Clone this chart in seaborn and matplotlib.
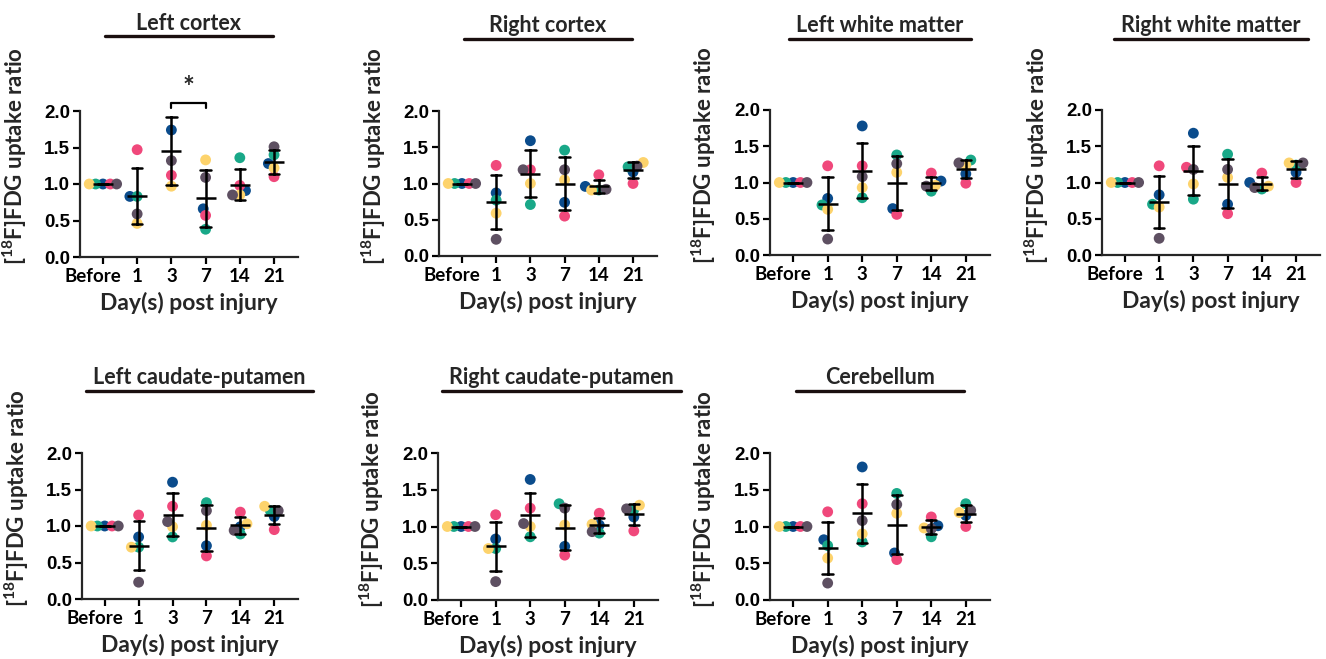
import numpy as np
import pandas as pd
import matplotlib
matplotlib.use("Agg")
import matplotlib.pyplot as plt
import matplotlib.transforms as mtransforms
import seaborn as sns
from matplotlib.lines import Line2D

# figure size in pixels
W, H = 1326, 659

# categories
DAYS = ["Before", "1", "3", "7", "14", "21"]
ANIMALS = ["navy", "teal", "pink", "yellow", "gray"]
PALETTE = {"navy": "#0b4c8c", "teal": "#19a888", "pink": "#f0487b",
           "yellow": "#fdd36c", "gray": "#5e5062"}

# uptake ratios per animal, order = DAYS
left_cortex = {
    "navy":   [1.0, 0.83, 1.74, 0.66, 0.91, 1.28],
    "teal":   [1.0, 0.83, 2.10, 0.38, 1.36, 1.40],
    "pink":   [1.0, 1.47, 1.12, 0.57, 0.98, 1.10],
    "yellow": [1.0, 0.46, 0.97, 1.33, 0.85, 1.22],
    "gray":   [1.0, 0.59, 1.32, 1.09, 0.85, 1.51],
}
right_cortex = {
    "navy":   [1.0, 0.87, 1.59, 0.74, 0.96, 1.16],
    "teal":   [1.0, 0.77, 0.71, 1.46, 0.91, 1.23],
    "pink":   [1.0, 1.25, 1.19, 0.55, 1.12, 1.00],
    "yellow": [1.0, 0.59, 1.00, 1.05, 0.91, 1.29],
    "gray":   [1.0, 0.23, 1.19, 1.19, 0.92, 1.24],
}
left_wm = {
    "navy":   [1.0, 0.78, 1.78, 0.64, 1.02, 1.12],
    "teal":   [1.0, 0.69, 0.79, 1.38, 0.88, 1.31],
    "pink":   [1.0, 1.23, 1.23, 0.56, 1.13, 0.99],
    "yellow": [1.0, 0.63, 0.93, 1.14, 0.96, 1.24],
    "gray":   [1.0, 0.22, 1.08, 1.26, 0.95, 1.27],
}
right_wm = {
    "navy":   [1.0, 0.83, 1.68, 0.70, 1.00, 1.14],
    "teal":   [1.0, 0.70, 0.77, 1.39, 0.91, 1.24],
    "pink":   [1.0, 1.23, 1.21, 0.57, 1.13, 1.00],
    "yellow": [1.0, 0.66, 0.98, 1.07, 0.95, 1.27],
    "gray":   [1.0, 0.23, 1.18, 1.18, 0.93, 1.27],
}
left_cp = {
    "navy":   [1.0, 0.85, 1.60, 0.73, 0.99, 1.13],
    "teal":   [1.0, 0.71, 0.85, 1.32, 0.89, 1.21],
    "pink":   [1.0, 1.15, 1.27, 0.59, 1.19, 0.95],
    "yellow": [1.0, 0.71, 0.99, 1.01, 1.03, 1.27],
    "gray":   [1.0, 0.23, 1.06, 1.21, 0.94, 1.21],
}
right_cp = {
    "navy":   [1.0, 0.83, 1.64, 0.73, 1.02, 1.13],
    "teal":   [1.0, 0.70, 0.86, 1.31, 0.91, 1.23],
    "pink":   [1.0, 1.16, 1.25, 0.61, 1.18, 0.94],
    "yellow": [1.0, 0.70, 1.00, 1.02, 1.03, 1.29],
    "gray":   [1.0, 0.25, 1.04, 1.25, 0.93, 1.24],
}
cerebellum = {
    "navy":   [1.0, 0.82, 1.81, 0.64, 1.01, 1.15],
    "teal":   [1.0, 0.74, 0.79, 1.45, 0.86, 1.31],
    "pink":   [1.0, 1.20, 1.31, 0.55, 1.13, 1.00],
    "yellow": [1.0, 0.57, 0.90, 1.18, 0.98, 1.19],
    "gray":   [1.0, 0.23, 1.08, 1.30, 0.97, 1.22],
}

PANELS = [
    ("Left cortex", left_cortex),
    ("Right cortex", right_cortex),
    ("Left white matter", left_wm),
    ("Right white matter", right_wm),
    ("Left caudate-putamen", left_cp),
    ("Right caudate-putamen", right_cp),
    ("Cerebellum", cerebellum),
]

# axes boxes in pixels: left, right, top(2.0), bottom(0.0)
BOXES = [(80, 298, 111, 257), (439, 657, 111, 256), (770, 990, 110, 255),
         (1102, 1320, 110, 255), (82, 298, 453, 599), (438, 658, 453, 600),
         (770, 990, 453, 600)]
# title centre y and underline y (pixels)
TITLE_Y = [(23, 36), (26, 39), (26, 39), (26, 39),
           (377, 391), (377, 391), (377, 391)]

LAYOUT_SIZE = 5.0   # marker size used for the swarm layout (points overlap)
DOT_SIZE = 7.8      # drawn marker size

sns.set_style("ticks")
plt.rcParams["font.family"] = ["Lato", "DejaVu Sans"]
plt.rcParams["font.weight"] = "bold"
plt.rcParams["mathtext.fontset"] = "custom"
plt.rcParams["mathtext.rm"] = "Lato:bold"
plt.rcParams["mathtext.bf"] = "Lato:bold"
plt.rcParams["axes.linewidth"] = 1.6

fig = plt.figure(figsize=(W / 100, H / 100), dpi=100)
# "Before" label sits a bit left of its tick
shift_left = mtransforms.ScaledTranslation(-10 / 100, 0, fig.dpi_scale_trans)


def to_long(region):
    rows = []
    for animal in ANIMALS:
        for d, v in zip(DAYS, region[animal]):
            rows.append({"day": d, "value": v, "animal": animal})
    return pd.DataFrame(rows)


axes = []
for i, ((title, region), (l, r, t, b)) in enumerate(zip(PANELS, BOXES)):
    ax = fig.add_axes([l / W, 1 - b / H, (r - l) / W, (b - t) / H])
    axes.append(ax)
    df = to_long(region)

    sns.swarmplot(data=df, x="day", y="value", hue="animal", order=DAYS,
                  hue_order=ANIMALS, palette=PALETTE, size=LAYOUT_SIZE,
                  legend=False, linewidth=0, ax=ax, zorder=2)
    sns.pointplot(data=df, x="day", y="value", order=DAYS, errorbar="sd",
                  capsize=0.3, linestyle="none", marker="_", markersize=15,
                  markeredgewidth=1.8, color="black",
                  err_kws={"linewidth": 1.8}, ax=ax)

    ax.set_xlim(-0.67, 5.7)
    ax.set_ylim(0, 2.0)
    ax.set_yticks([0, 0.5, 1.0, 1.5, 2.0])
    ax.set_yticklabels(["0.0", "0.5", "1.0", "1.5", "2.0"],
                       fontfamily=["Liberation Sans", "DejaVu Sans"],
                       fontweight="bold", fontsize=13.5)
    ax.set_xticks(range(len(DAYS)))
    ax.set_xticklabels(DAYS, fontsize=13.5, fontweight="bold")
    ax.tick_params(axis="both", width=1.6, length=5, pad=2, colors="black")
    ax.tick_params(axis="x", pad=3)
    sns.despine(ax=ax)

    ax.set_xlabel("Day(s) post injury", fontsize=16.5, fontweight="bold",
                  labelpad=5)
    ax.set_ylabel(r"[$^{\mathbf{18}}$F]FDG uptake ratio", fontsize=16,
                  fontweight="bold")
    ax.yaxis.set_label_coords(-0.235, 0.69)

    # title with underline
    ty, uy = TITLE_Y[i]
    txt = fig.text(0, 1 - ty / H, title, fontsize=15.5, fontweight="bold",
                   ha="center", va="center")
    fig.canvas.draw()
    tw = txt.get_window_extent().width
    uw = max(168, tw + 14)
    cx = max((l + r) / 2, l + 4 + uw / 2)
    txt.set_x(cx / W)
    fig.add_artist(Line2D([(cx - uw / 2) / W, (cx + uw / 2) / W],
                          [1 - uy / H, 1 - uy / H], color="#1a0f0f", lw=2.4))

    # significance bracket on left cortex
    if i == 0:
        ax.plot([2, 2, 3, 3], [2.04, 2.11, 2.11, 2.04], color="black",
                lw=1.6, clip_on=False)
        ax.text(2.5, 2.31, "*", ha="center", va="center", fontsize=20,
                fontweight="bold", clip_on=False)

# freeze the swarm layout from the small markers, then draw bigger dots
fig.canvas.draw()
for ax in axes:
    for c in ax.collections:
        if "draw" in c.__dict__:
            del c.__dict__["draw"]
        c.set_sizes([DOT_SIZE ** 2])
        c.set_zorder(1.5)
    lab0 = ax.xaxis.get_major_ticks()[0].label1
    lab0.set_transform(lab0.get_transform() + shift_left)

fig.savefig("out.png", dpi=100)
